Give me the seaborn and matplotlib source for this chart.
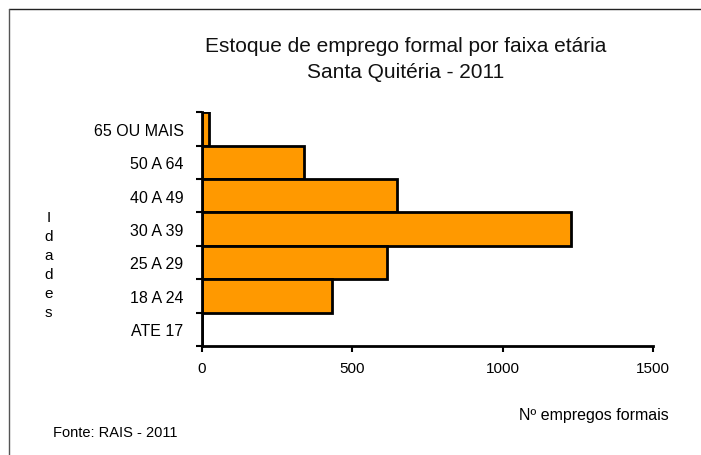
import matplotlib
matplotlib.use("Agg")
import matplotlib.pyplot as plt
import seaborn as sns
import pandas as pd
from matplotlib.ticker import FixedLocator
from matplotlib.lines import Line2D

faixas = ["65 OU MAIS", "50 A 64", "40 A 49", "30 A 39", "25 A 29", "18 A 24", "ATE 17"]
empregos = [25, 340, 648, 1228, 616, 432, 1]
xticks = [0, 500, 1000, 1500]

df = pd.DataFrame({"faixa": faixas, "empregos": empregos})

sns.set_theme(style="white")
plt.rcParams["font.family"] = ["Liberation Sans", "DejaVu Sans"]
plt.rcParams["text.color"] = "black"
plt.rcParams["xtick.color"] = "black"
plt.rcParams["ytick.color"] = "black"

fig = plt.figure(figsize=(7.01, 4.56), dpi=100)
ax = fig.add_axes([0.2877, 0.239, 0.932 - 0.2877, 0.752 - 0.239])

sns.barplot(data=df, x="empregos", y="faixa", order=faixas, orient="h",
            color="#FF9900", saturation=1, width=1.0, edgecolor="black",
            linewidth=2, ax=ax)

ax.set_xlim(0, 1500)
ax.set_ylim(len(faixas) - 0.5, -0.5)
ax.xaxis.set_major_locator(FixedLocator(xticks))
ax.set_xticklabels([str(v) for v in xticks], fontsize=11, color="black")
ax.set_yticklabels(faixas, fontsize=11.5, color="black")
ax.set_xlabel("")
ax.set_ylabel("")

for side in ["top", "right"]:
    ax.spines[side].set_visible(False)
for side in ["left", "bottom"]:
    ax.spines[side].set_visible(True)
    ax.spines[side].set_color("black")
    ax.spines[side].set_linewidth(2)

ax.tick_params(axis="x", which="major", length=4, width=1.5, color="black",
               direction="out", bottom=True, pad=7)
ax.tick_params(axis="y", which="major", length=0, pad=13)
ax.yaxis.set_minor_locator(FixedLocator([i - 0.5 for i in range(len(faixas) + 1)]))
ax.tick_params(axis="y", which="minor", length=4, width=1.5, color="black",
               direction="out", left=True)

fig.text(0.579, 0.897, "Estoque de emprego formal por faixa etária",
         ha="center", va="center", fontsize=15, color="#111111")
fig.text(0.579, 0.842, "Santa Quitéria - 2011",
         ha="center", va="center", fontsize=15, color="#111111")

fig.text(0.069, 0.417, "I\nd\na\nd\ne\ns", ha="center", va="center",
         fontsize=11, linespacing=1.45)

fig.text(0.954, 0.088, "Nº empregos formais", ha="right", va="center", fontsize=11.5)
fig.text(0.076, 0.051, "Fonte: RAIS - 2011", ha="left", va="center", fontsize=10.5)

# figure frame: top and left lines only
fig.add_artist(Line2D([9 / 701, 1.0], [1 - 10 / 456, 1 - 10 / 456],
                      transform=fig.transFigure, color="#222222", linewidth=1))
fig.add_artist(Line2D([9 / 701, 9 / 701], [0.0, 1 - 10 / 456],
                      transform=fig.transFigure, color="#555555", linewidth=1))

fig.savefig("out.png", dpi=100, facecolor="white")
